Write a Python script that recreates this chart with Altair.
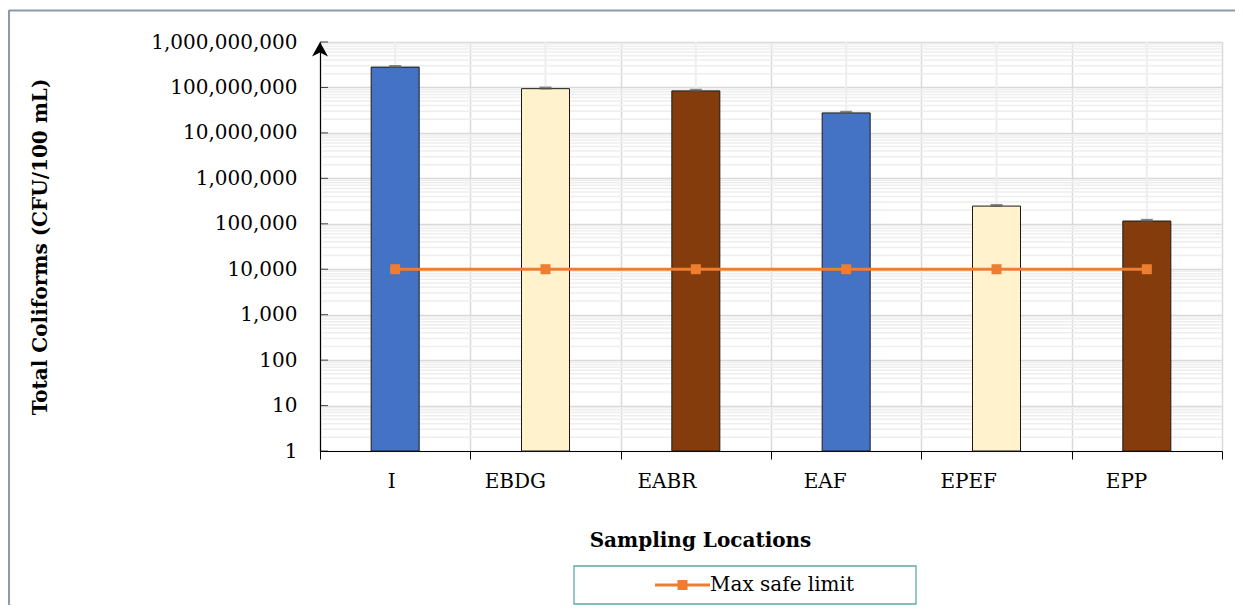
import altair as alt
import pandas as pd

categories = ["I", "EBDG", "EABR", "EAF", "EPEF", "EPP"]
coliforms = [280000000, 94000000, 84000000, 27500000, 245000, 115000]
errors = [9000000, 3000000, 2700000, 900000, 8000, 4000]
safe_limit = [10000, 10000, 10000, 10000, 10000, 10000]
bar_colors = ["#4472C4", "#FFF2CC", "#843C0C", "#4472C4", "#FFF2CC", "#843C0C"]
major_ticks = [1, 10, 100, 1000, 10000, 100000, 1000000, 10000000, 100000000, 1000000000]
minor_ticks = [m * d for d in major_ticks[:-1] for m in range(2, 10)]

FONT = "DejaVu Serif"

df = pd.DataFrame({
    "cat": categories,
    "value": coliforms,
    "hi": [v + e for v, e in zip(coliforms, errors)],
    "limit": safe_limit,
    "series": ["Max safe limit"] * len(categories),
})
minor_df = pd.DataFrame({"v": minor_ticks})
major_df = pd.DataFrame({"v": major_ticks})

xenc = alt.X(
    "cat:N", sort=categories, title="Sampling Locations",
    scale=alt.Scale(paddingInner=0, paddingOuter=0),
    axis=alt.Axis(
        tickBand="extent", labelAngle=0, grid=True, gridColor="#d9d9d9", gridWidth=1.5,
        tickSize=8, tickColor="#000000", domainColor="#000000", domainWidth=1.2,
        labelPadding=22, labelFontSize=20, labelFont=FONT, labelColor="#000000",
        titleFont=FONT, titleFontSize=20, titleFontWeight="bold", titleColor="#000000",
        titleX=380, titleY=89, titleBaseline="middle", titleAlign="center",
    ),
)
yscale = alt.Scale(type="log", domain=[1, 1000000000], nice=False)
yenc = alt.Y(
    "value:Q", scale=yscale, title="Total Coliforms (CFU/100 mL)",
    axis=alt.Axis(
        values=major_ticks, format=",d", grid=True, gridColor="#d9d9d9", gridWidth=1.5,
        ticks=False, domainColor="#000000", domainWidth=1.2, labelPadding=23,
        labelFontSize=20, labelFont=FONT, labelColor="#000000",
        titleFont=FONT, titleFontSize=20, titleFontWeight="bold", titleColor="#000000",
        titleX=-280, titleY=204.5, titleBaseline="middle", titleAlign="center", titleAngle=-90,
    ),
)

minor = alt.Chart(minor_df).mark_rule(color="#eeeeee", strokeWidth=1.5).encode(
    y=alt.Y("v:Q", scale=yscale), x=alt.value(1.5), x2=alt.value(902)
)
centers = alt.Chart(df).mark_rule(color="#eeeeee", strokeWidth=2).encode(
    x=alt.X("cat:N", sort=categories)
)
bars = alt.Chart(df).mark_bar(width=48, stroke="#1a1a1a", strokeWidth=1).encode(
    x=xenc,
    y=yenc,
    y2=alt.datum(1),
    fill=alt.Fill("cat:N", sort=categories,
                  scale=alt.Scale(domain=categories, range=bar_colors), legend=None),
)
caps = alt.Chart(df).mark_tick(color="#595959", thickness=3, size=12).encode(
    x=alt.X("cat:N", sort=categories),
    y=alt.Y("hi:Q", scale=yscale),
)
line = alt.Chart(df).mark_line(color="#ED7D31", strokeWidth=3).encode(
    x=alt.X("cat:N", sort=categories),
    y=alt.Y("limit:Q", scale=yscale),
)
legend_symbol = "M-5.5,-0.3H5.5V0.3H-5.5Z M-1,-1H1V1H-1Z"
squares = alt.Chart(df).mark_square(size=100, opacity=1).encode(
    x=alt.X("cat:N", sort=categories),
    y=alt.Y("limit:Q", scale=yscale),
    color=alt.Color(
        "series:N", scale=alt.Scale(range=["#ED7D31"]),
        legend=alt.Legend(
            title=None, orient="none", legendX=250, legendY=533, padding=0,
            symbolOffset=102.5, symbolType=legend_symbol, symbolSize=100,
            symbolStrokeWidth=0, symbolFillColor="#ED7D31", symbolOpacity=1,
            labelOffset=17.5, labelFont=FONT, labelFontSize=20, labelColor="#000000",
        ),
    ),
)
legend_box = alt.Chart(major_df.head(1)).mark_rect(
    fill="#ffffff", fillOpacity=0, stroke="#5AA9AB", strokeWidth=1.3
).encode(x=alt.value(254), x2=alt.value(596), y=alt.value(524), y2=alt.value(562))
yticks = alt.Chart(major_df).mark_tick(color="#000000", thickness=1, size=8).encode(
    y=alt.Y("v:Q", scale=yscale), x=alt.value(4)
)
arrow = alt.Chart(major_df.head(1)).mark_point(
    shape="M0,0L-1,1.8L0,1.3L1,1.8Z", filled=True, size=256, color="#000000", opacity=1
).encode(x=alt.value(0), y=alt.datum(1000000000, scale=yscale))
frame_left = alt.Chart(major_df.head(1)).mark_rule(color="#8c98ab", strokeWidth=2).encode(
    x=alt.value(-311), y=alt.value(-32), y2=alt.value(600)
)
frame_top = alt.Chart(major_df.head(1)).mark_rule(color="#8c98ab", strokeWidth=2).encode(
    x=alt.value(-311), x2=alt.value(940), y=alt.value(-31.5)
)

chart = alt.layer(
    minor, centers, bars, caps, line, squares, yticks, arrow, legend_box,
    frame_left, frame_top
).resolve_scale(
    color="independent", fill="independent"
).properties(
    width=902, height=409,
    autosize=alt.AutoSizeParams(type="none"),
    padding={"left": 312, "top": 34, "right": 13, "bottom": 154},
).configure_view(stroke=None).configure(background="#ffffff")

chart.save("out.html", embed_options={"renderer": "svg", "actions": False})
